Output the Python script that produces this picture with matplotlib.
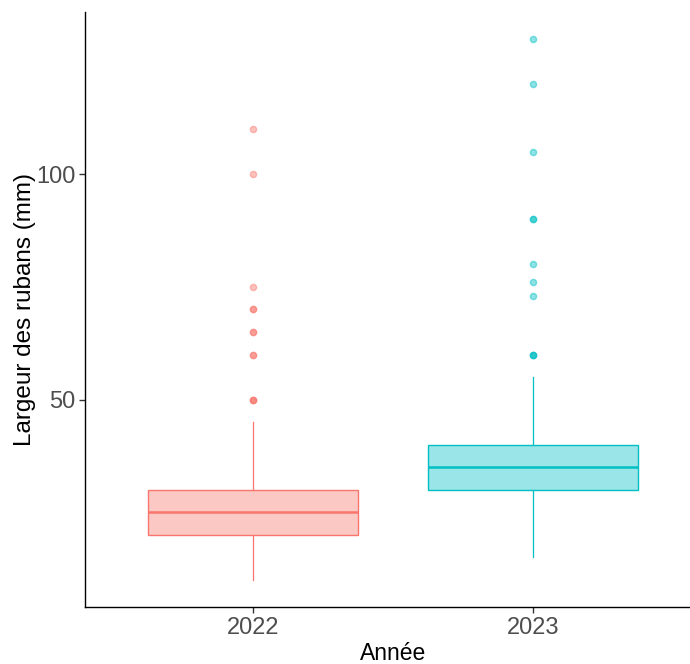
import matplotlib.pyplot as plt

plt.rcParams['font.family'] = ['Liberation Sans', 'DejaVu Sans']

# largeur des rubans par année (résumés des boîtes)
annees = ["2022", "2023"]
q1 = [20, 30]
mediane = [25, 35]
q3 = [30, 40]
moust_bas = [10, 15]
moust_haut = [45, 55]
# valeurs aberrantes (les doublons se superposent)
aberr_2022 = [50, 50, 50, 60, 60, 65, 65, 70, 70, 75, 100, 110]
aberr_2023 = [60, 60, 60, 73, 76, 80, 90, 90, 105, 120, 130]
couleurs = ["#F8766D", "#00BFC4"]

fig = plt.figure(figsize=(6.9, 6.64), dpi=100)
ax = fig.add_axes([85 / 690, 1 - 607 / 664, 616 / 690, 595 / 664])

aberr = [aberr_2022, aberr_2023]
for i in range(len(annees)):
    stats = [{
        "q1": q1[i], "med": mediane[i], "q3": q3[i],
        "whislo": moust_bas[i], "whishi": moust_haut[i],
        "fliers": aberr[i],
    }]
    c = couleurs[i]
    ax.bxp(stats, positions=[i + 1], widths=0.75, patch_artist=True,
           showcaps=False,
           boxprops=dict(facecolor=c + "66", edgecolor=c, linewidth=1.0),
           medianprops=dict(color=c, linewidth=1.8),
           whiskerprops=dict(color=c, linewidth=0.9),
           flierprops=dict(marker="o", markersize=4.5, markerfacecolor=c,
                           markeredgecolor=c, alpha=0.45, linestyle="none"))

ax.set_xlim(0.4, 2.6)
ax.set_ylim(4, 136)
ax.set_xticks([1, 2])
ax.set_xticklabels(annees)
ax.set_yticks([50, 100])

for s in ["top", "right"]:
    ax.spines[s].set_visible(False)
for s in ["left", "bottom"]:
    ax.spines[s].set_color("black")
    ax.spines[s].set_linewidth(1.0)

ax.tick_params(axis="both", labelsize=17, labelcolor="#4D4D4D",
               color="#333333", length=4, width=1.0, pad=3)
ax.set_xlabel("Année", fontsize=16.5, color="black", labelpad=2)
ax.set_ylabel("Largeur des rubans (mm)", fontsize=17.5, color="black",
              labelpad=0)

fig.savefig("out.png", dpi=100)
